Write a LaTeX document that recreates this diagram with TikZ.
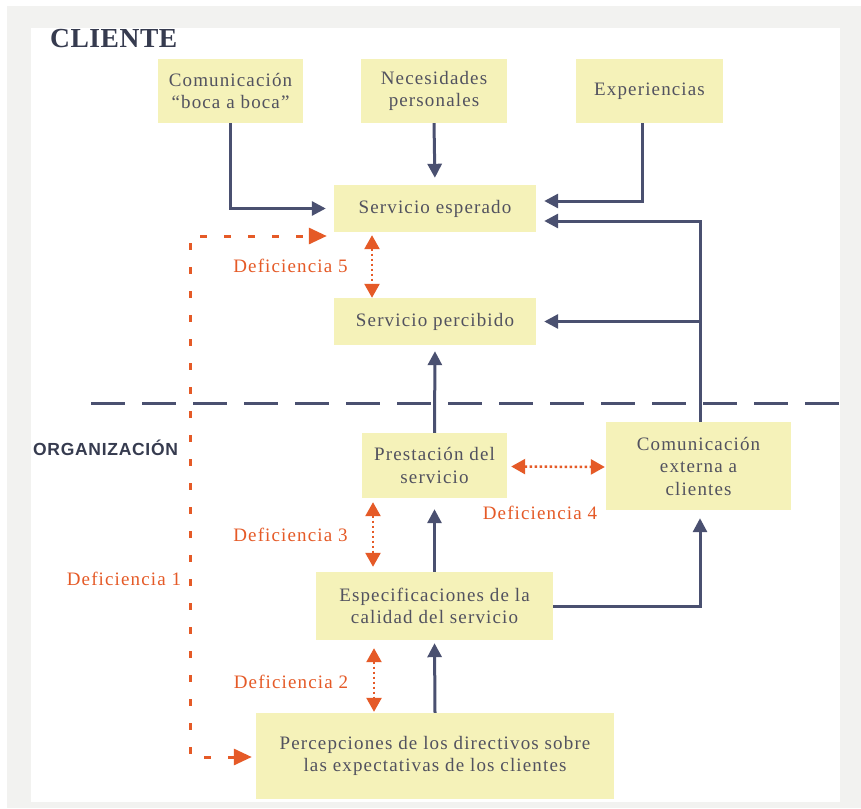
\documentclass[tikz,border=0pt]{standalone}
\usepackage{fontspec}
\setmainfont{Liberation Serif}[LetterSpace=6]
\newfontfamily\headserif{Liberation Serif}[LetterSpace=2]
\newfontfamily\headsans{Liberation Sans}[LetterSpace=4]
\usetikzlibrary{arrows.meta}
\definecolor{panelgray}{HTML}{F2F2F0}
\definecolor{boxfill}{HTML}{F5F2B9}
\definecolor{boxtext}{HTML}{52525F}
\definecolor{flowblue}{HTML}{4A5070}
\definecolor{headink}{HTML}{363B4F}
\definecolor{gaporange}{HTML}{E55A27}
\begin{document}
\begin{tikzpicture}[x=1pt,y=-1pt,
  box/.style={fill=boxfill, text=boxtext, align=center, inner sep=0pt,
    font=\fontsize{19}{22.5}\selectfont},
  flow/.style={draw=flowblue, line width=3pt, -{Triangle[length=14pt,width=14pt]}},
  gapdots/.style={draw=gaporange, line width=2.5pt, dash pattern=on 2.5pt off 2.5pt,
    {Triangle[length=14pt,width=15pt]}-{Triangle[length=14pt,width=15pt]}},
  gaplong/.style={draw=gaporange, line width=3pt, dash pattern=on 7pt off 17pt,
    {Triangle[length=18pt,width=16pt]}-{Triangle[length=18pt,width=16pt]}},
  gaplabel/.style={text=gaporange, inner sep=0pt, font=\fontsize{19}{22}\selectfont},
  heading/.style={text=headink, inner sep=0pt}
]
\useasboundingbox (0,0) rectangle (861,808);

% panel background
\fill[white] (0,0) rectangle (861,808);
\fill[panelgray] (7,6) rectangle (861,808);
\fill[white] (31,28) rectangle (840,802);

% section headings
\node[heading, anchor=base west, font=\headserif\bfseries\fontsize{27.5}{28}\selectfont]
  (cliente) at (50,48) {CLIENTE};
\node[heading, anchor=west, font=\headsans\bfseries\fontsize{17.5}{18}\selectfont]
  (organizacion) at (33,448) {ORGANIZACIÓN};

% boundary between customer and organisation
\coordinate (sepL) at (91,403);
\coordinate (sepR) at (840,403);
\draw[draw=flowblue, line width=3pt, dash pattern=on 34pt off 17pt] (sepL) -- (sepR);

% customer side
\node[box, minimum width=145pt, minimum height=64pt] (boca) at (230.5,91)
  {Comunicación\\``boca a boca''};
\node[box, minimum width=146pt, minimum height=64pt] (neces) at (434,91)
  {Necesidades\\personales};
\node[box, minimum width=147pt, minimum height=64pt] (exper) at (649.5,91)
  {Experiencias};
\node[box, minimum width=202pt, minimum height=47pt] (esperado) at (435,208.5)
  {Servicio esperado};
\node[box, minimum width=202pt, minimum height=47pt] (percibido) at (435,321.5)
  {Servicio percibido};

% organisation side
\node[box, minimum width=145pt, minimum height=65pt] (prest) at (434.5,465.5)
  {Prestación del\\servicio};
\node[box, minimum width=185pt, minimum height=88pt] (comext) at (698.5,466)
  {Comunicación\\externa a\\clientes};
\node[box, minimum width=237pt, minimum height=68pt] (espec) at (434.5,606)
  {Especificaciones de la\\calidad del servicio};
\node[box, minimum width=358pt, minimum height=86pt] (direct) at (435,756)
  {Percepciones de los directivos sobre\\las expectativas de los clientes};

% flows
\draw[flow, shorten >=8pt] (boca.south) |- (esperado.west);
\draw[flow, shorten >=7pt] (neces.south) -- (esperado.north);
\draw[flow, shorten >=8pt] ([xshift=-7.5pt]exper.south) |- ([yshift=7.5pt]esperado.east);
\draw[flow, shorten >=8pt] ([xshift=1.5pt]comext.north) |- ([yshift=-12.5pt]esperado.east);
\draw[flow, shorten >=8pt] ([xshift=1.5pt]comext.north |- percibido.east) -- (percibido.east);
\draw[flow, shorten >=6pt] (prest.north) -- (percibido.south);
\draw[flow, shorten >=11pt] (espec.north) -- (prest.south);
\draw[flow, shorten >=8pt] (espec.east) -| ([xshift=1.5pt]comext.south);
\draw[flow, shorten >=3pt] (direct.north) -- (espec.south);

% gaps
\draw[gapdots, shorten <=3pt, shorten >=0pt]
  ([xshift=-63pt]esperado.south) -- ([xshift=-63pt]percibido.north);
\draw[gapdots, shorten <=4pt, shorten >=1pt] ([yshift=-1pt]prest.east) -- ([yshift=-1pt]comext.west);
\draw[gapdots, shorten <=4pt, shorten >=5pt]
  ([xshift=-61.5pt]prest.south) -- ([xshift=-61.5pt]espec.north);
\draw[gapdots, shorten <=8pt, shorten >=1pt]
  ([xshift=-60.5pt]espec.south) -- ([xshift=-61pt]direct.north);
\coordinate (gapone) at (190,400);
\draw[gaplong, shorten <=4pt, shorten >=7pt]
  ([yshift=-1pt]direct.west) -| (gapone) |- ([yshift=-27.5pt]esperado.west);

\node[gaplabel] (def5) at (290.5,266) {Deficiencia 5};
\node[gaplabel] (def4) at (540,513) {Deficiencia 4};
\node[gaplabel] (def3) at (290.5,535) {Deficiencia 3};
\node[gaplabel] (def2) at (291,682) {Deficiencia 2};
\node[gaplabel] (def1) at (124,579) {Deficiencia 1};
\end{tikzpicture}
\end{document}
